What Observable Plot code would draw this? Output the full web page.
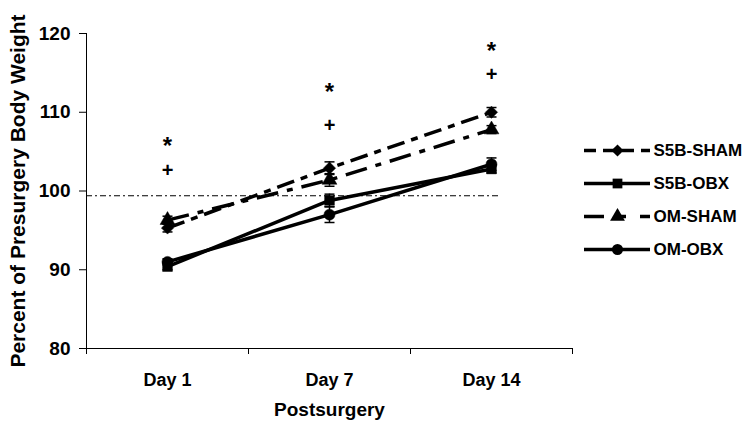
<!DOCTYPE html>
<html>
<head>
<meta charset="utf-8">
<script src="https://cdn.jsdelivr.net/npm/d3@7"></script>
<script src="https://cdn.jsdelivr.net/npm/@observablehq/plot@0.6"></script>
<style>
  html, body { margin: 0; padding: 0; background: #fff; }
  #wrap { position: relative; width: 753px; height: 436px; overflow: hidden; }
  #legend { position: absolute; left: 580px; top: 130px; }
</style>
</head>
<body>
<div id="wrap"><div id="chart"></div><div id="legend"></div></div>
<script>
// ---- data ----
const days = ["Day 1", "Day 7", "Day 14"];
const seriesNames = ["S5B-SHAM", "S5B-OBX", "OM-SHAM", "OM-OBX"];
const s5bSham = [95.3, 102.9, 110.0];
const s5bShamErr = [0.5, 0.8, 0.6];
const s5bObx = [90.4, 98.8, 102.8];
const s5bObxErr = [0.4, 0.8, 0.5];
const omSham = [96.3, 101.4, 107.8];
const omShamErr = [0.5, 0.8, 0.5];
const omObx = [91.0, 97.0, 103.4];
const omObxErr = [0.4, 1.0, 0.8];
const starY = [106.4, 113.3, 118.5];
const plusY = [102.6, 108.3, 114.8];
const baselineValue = 99.4;
const yTicks = [80, 90, 100, 110, 120];

const seriesValues = [s5bSham, s5bObx, omSham, omObx];
const seriesErrs = [s5bShamErr, s5bObxErr, omShamErr, omObxErr];
const symbols = ["diamond2", "square", "triangle", "circle"];
const dashes = ["18,7,7,7", null, "22,9,6,9", null];
const legendDashes = ["12,7", null, "20,14,8,14", null];

const rows = [];
seriesNames.forEach((s, k) => {
  days.forEach((d, i) => rows.push({series: s, i, v: seriesValues[k][i], e: seriesErrs[k][i]}));
});

const capSymbol = {
  draw(context, size) {
    const r = Math.sqrt(size / Math.PI);
    context.moveTo(-r, 0);
    context.lineTo(r, 0);
  }
};

const font = "'Liberation Sans', Arial, Helvetica, sans-serif";

const lineMarks = seriesNames.map((s, k) =>
  Plot.line(rows.filter(r => r.series === s), {
    x: "i", y: "v", stroke: "black", strokeWidth: 3.5,
    strokeDasharray: dashes[k] || undefined, strokeLinecap: "butt"
  })
);

const chart = Plot.plot({
  width: 753, height: 436,
  marginLeft: 86, marginRight: 181, marginTop: 33, marginBottom: 88,
  x: {type: "linear", domain: [-0.5, 2.5]},
  y: {domain: [80, 120]},
  symbol: {domain: seriesNames, range: symbols},
  style: {fontFamily: font, fontWeight: "bold", fontSize: "18px", color: "black", background: "white"},
  marks: [
    Plot.axisY({ticks: yTicks, tickSize: 7, tickPadding: 9, fontSize: 19, label: null}),
    Plot.axisX({ticks: [-0.5, 0.5, 1.5, 2.5], tickFormat: () => "", tickSize: 6, label: null}),
    Plot.axisX({ticks: [0, 1, 2], tickSize: 0, tickPadding: 25, fontSize: 18, tickFormat: i => days[i], label: null}),
    Plot.ruleX([-0.5], {y1: 80, y2: 120, stroke: "black", strokeWidth: 1}),
    Plot.ruleY([80], {x1: -0.5, x2: 2.5, stroke: "black", strokeWidth: 1}),
    Plot.ruleY([baselineValue], {x1: -0.5, x2: 2.06, stroke: "black", strokeWidth: 1.2, strokeDasharray: "6,3,2,3"}),
    ...lineMarks,
    Plot.ruleX(rows, {x: "i", y1: d => d.v - d.e, y2: d => d.v + d.e, stroke: "black", strokeWidth: 1.5}),
    Plot.dot(rows, {x: "i", y: d => d.v + d.e, symbol: () => capSymbol, r: 5, stroke: "black", strokeWidth: 1.5}),
    Plot.dot(rows, {x: "i", y: d => d.v - d.e, symbol: () => capSymbol, r: 5, stroke: "black", strokeWidth: 1.5}),
    Plot.dot(rows, {x: "i", y: "v", symbol: "series", r: 5.5, fill: "black", stroke: "black", strokeWidth: 0.5}),
    Plot.text(days.map((d, i) => i), {x: d => d, y: d => starY[d], text: () => "*", fontSize: 24, dy: 6}),
    Plot.text(days.map((d, i) => i), {x: d => d, y: d => plusY[d], text: () => "+", fontSize: 20}),
    Plot.text(["Percent of Presurgery Body Weight"], {frameAnchor: "left", textAnchor: "middle", rotate: -90, dx: -68, fontSize: 21, text: d => d}),
    Plot.text(["Postsurgery"], {frameAnchor: "bottom", dy: 67, fontSize: 19, text: d => d})
  ]
});
document.getElementById("chart").appendChild(chart);

const legend = Plot.plot({
  width: 173, height: 140,
  margin: 0,
  x: {domain: [0, 1], range: [4, 70], axis: null},
  y: {type: "point", domain: seriesNames, range: [20, 119], padding: 0, axis: null},
  symbol: {domain: seriesNames, range: symbols},
  style: {fontFamily: font, fontWeight: "bold", fontSize: "17px", color: "black", background: "transparent", overflow: "visible"},
  marks: [
    ...seriesNames.map((s, k) => Plot.ruleY([s], {y: d => d, x1: 0, x2: 1, stroke: "black", strokeWidth: 3.5, strokeDasharray: legendDashes[k] || undefined})),
    Plot.dot(seriesNames, {x: 0.5, y: d => d, symbol: d => d, r: 5.5, fill: "black"}),
    Plot.text(seriesNames, {x: 1, y: d => d, text: d => d, textAnchor: "start", dx: 3, fontSize: 17})
  ]
});
document.getElementById("legend").appendChild(legend);
</script>
</body>
</html>
